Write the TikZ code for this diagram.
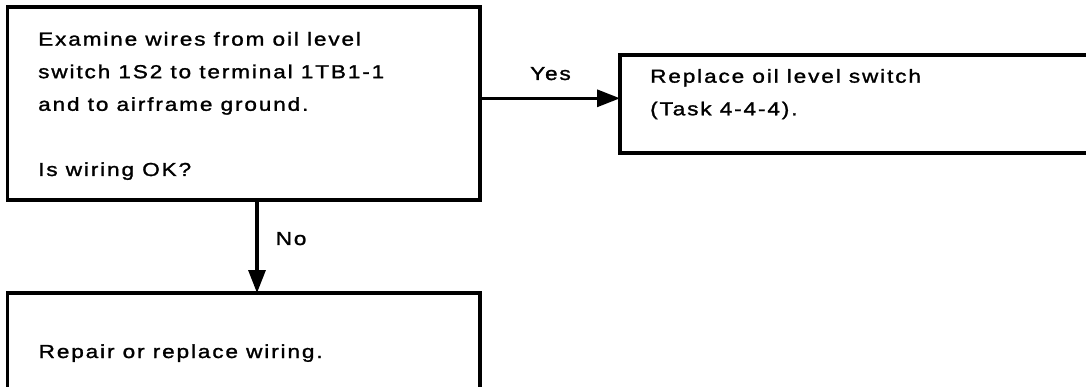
\documentclass[tikz,border=0pt]{standalone}
\usepackage{fontspec}
\newfontfamily\diafont[FakeStretch=1.2,LetterSpace=10,FakeBold=1.4]{Liberation Sans}
\usetikzlibrary{arrows.meta}
\tikzset{
  box/.style={draw=black, line width=3.2pt, outer sep=0pt, inner sep=0pt, anchor=north west},
  txt/.style={inner sep=0pt, anchor=base west, align=left, font=\diafont\fontsize{18.8}{32.6}\selectfont},
  arr/.style={line width=3.2pt, -{Triangle[length=23pt,width=17pt]}}
}
\begin{document}
\begin{tikzpicture}[x=1pt,y=-1pt]
\useasboundingbox[fill=white] (0,0) rectangle (1086,387);
% boxes
\node[box, minimum width=472.5pt, minimum height=193pt] (q) at (7.5,7) {};
\node[box, minimum width=480pt, minimum height=98pt] (r) at (620,55) {};
\node[box, minimum width=472.5pt, minimum height=120pt] (f) at (7.5,293) {};
% texts (base anchor = baseline of the last line)
\node[txt] (qt) at (38,176) {Examine wires from oil level\\switch 1S2 to terminal 1TB1-1\\and to airframe ground.\\[32.6pt]Is wiring OK?};
\node[txt] (rt) at (650,115.3) {Replace oil level switch\\(Task 4-4-4).};
\node[txt] (ft) at (38.5,358) {Repair or replace wiring.};
% connectors
\coordinate (ya) at (500,98.3);
\coordinate (na) at (257,250);
\draw[arr] (q.east |- ya) -- (r.west |- ya);
\draw[arr] (q.south -| na) -- (f.north -| na);
\node[txt] (yes) at (530,80) {Yes};
\node[txt] (no) at (275.5,245) {No};
\end{tikzpicture}
\end{document}
